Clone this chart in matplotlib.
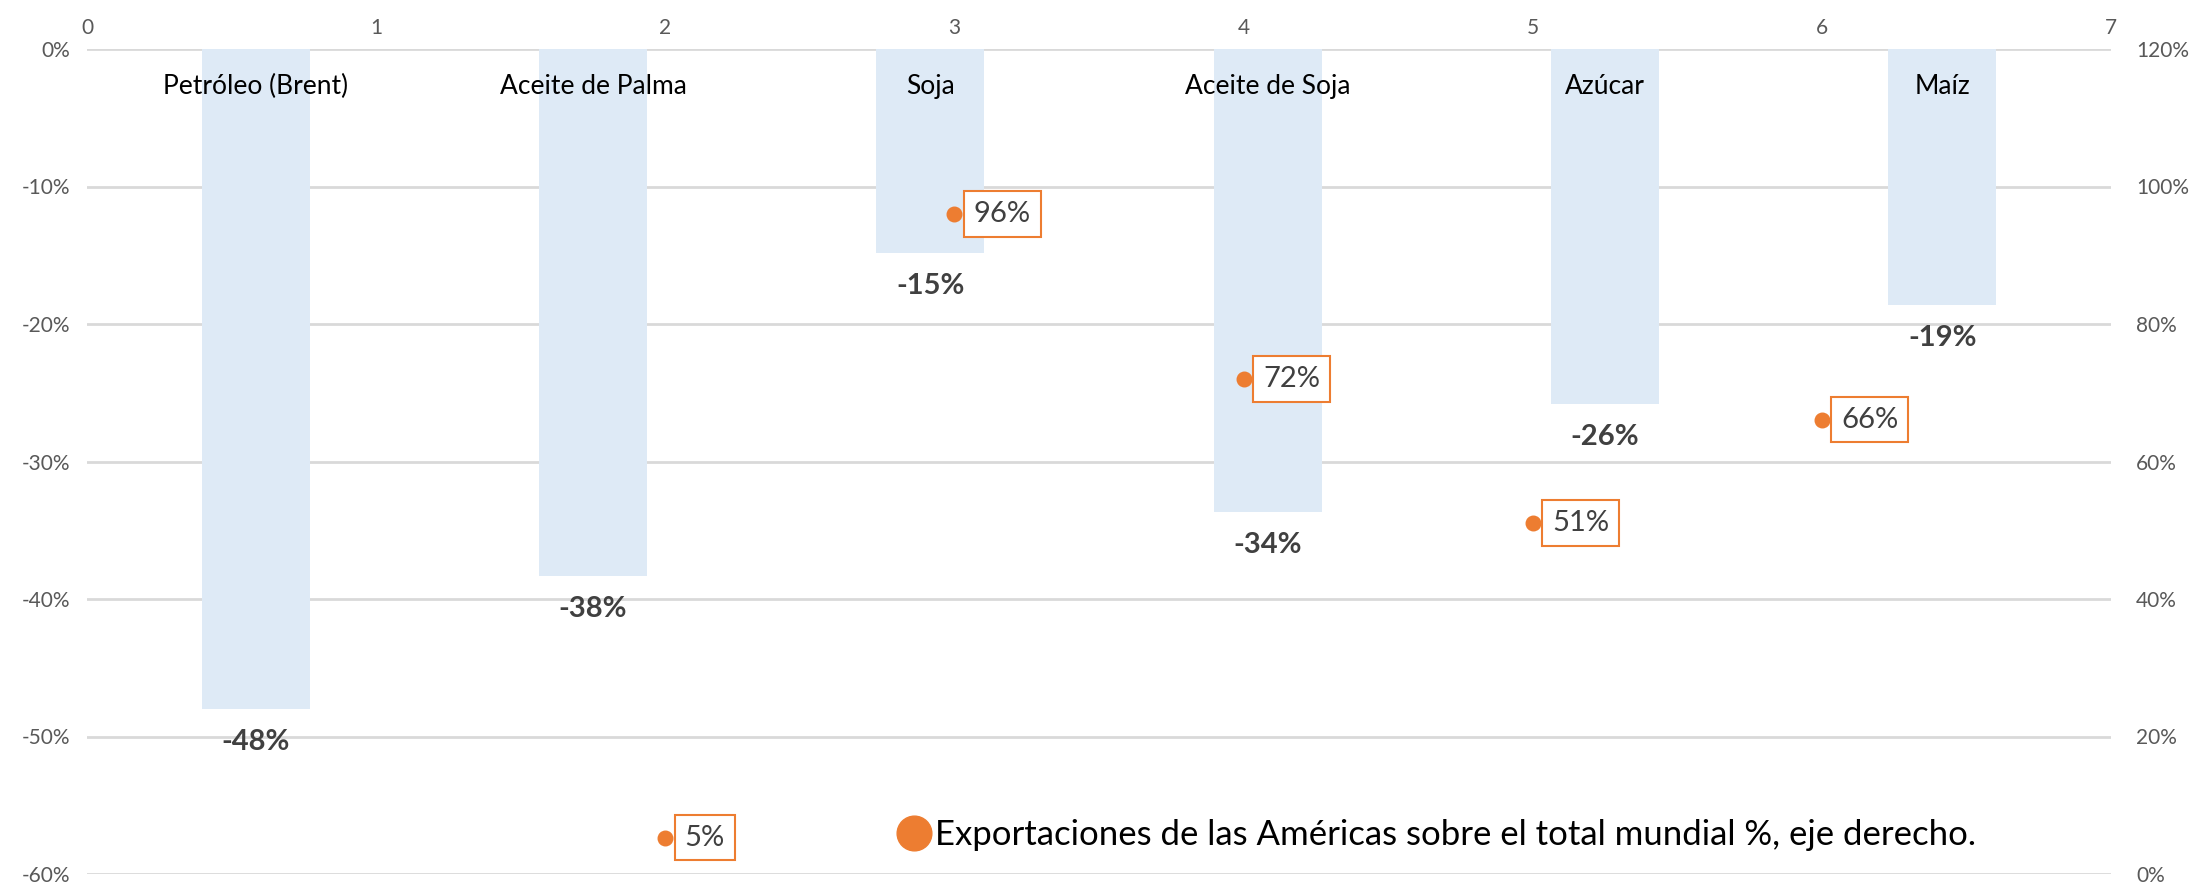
import numpy as np
import matplotlib
matplotlib.use('Agg')
import matplotlib.pyplot as plt
from matplotlib.lines import Line2D

plt.rcParams['font.family'] = ['Lato', 'DejaVu Sans']

# data
categories = ['Petróleo (Brent)', 'Aceite de Palma', 'Soja', 'Aceite de Soja', 'Azúcar', 'Maíz']
price_change = [-48.0, -38.3, -14.8, -33.7, -25.8, -18.6]
export_x = [2, 3, 4, 5, 6]
export_share = [5.3, 96.0, 72.0, 51.1, 66.1]
legend_label = 'Exportaciones de las Américas sobre el total mundial %, eje derecho.'

bar_color = '#DEEAF6'
orange = '#ED7D31'
grey_txt = '#595959'
dark_txt = '#404040'

fig = plt.figure(figsize=(22.11, 8.84), dpi=100)
pos = [87/2211, 1 - 874/884, (2111-87)/2211, (874-49)/884]

ax = fig.add_axes(pos)
xs = np.arange(len(categories)) + 0.5
ax.bar(xs, price_change, width=0.32, color=bar_color, zorder=2)
ax.set_xlim(0, len(categories))
ax.set_ylim(-60, 0)
ax.set_yticks(np.arange(-60, 1, 10))
ax.set_yticklabels([f'{v}%' for v in range(-60, 1, 10)])
ax.set_xticks([])
ax.yaxis.grid(True, color='#D9D9D9', lw=2, zorder=0)
ax.tick_params(axis='y', length=0, labelsize=15, labelcolor=grey_txt, pad=12)
for s in ax.spines.values():
    s.set_visible(False)

for x, v, name in zip(xs, price_change, categories):
    ax.text(x, -2.7, name, ha='center', va='center', fontsize=19, color='black', zorder=3)
    ax.text(x, v - 2.4, f'{round(v)}%', ha='center', va='center', fontsize=21,
            fontweight='bold', color=dark_txt, zorder=3)

# secondary axes: top x, right y
ax2 = fig.add_axes(pos, frameon=False)
ax2.patch.set_alpha(0)
ax2.set_xlim(0, 7)
ax2.set_ylim(0, 120)
ax2.xaxis.tick_top()
ax2.yaxis.tick_right()
ax2.set_xticks(range(8))
ax2.set_yticks(range(0, 121, 20))
ax2.set_yticklabels([f'{v}%' for v in range(0, 121, 20)])
ax2.tick_params(length=0, labelsize=15, labelcolor=grey_txt)
ax2.tick_params(axis='y', pad=18)
ax2.tick_params(axis='x', pad=8)

ax2.scatter(export_x, export_share, s=110, color=orange, zorder=4)
for x, v in zip(export_x, export_share):
    ax2.annotate(f'{round(v)}%', (x, v), xytext=(14, 0), textcoords='offset points',
                 ha='left', va='center', fontsize=21, color=dark_txt,
                 bbox=dict(boxstyle='square,pad=0.34', fc='white', ec=orange, lw=1.5))

handle = Line2D([], [], ls='none', marker='o', markersize=25, color=orange)
ax2.legend([handle], [legend_label], loc='center left', bbox_to_anchor=(0.393, 0.047),
           frameon=False, fontsize=25, handletextpad=0.1, borderaxespad=0,
           handlelength=1.0)

fig.savefig('out.png', dpi=100)
